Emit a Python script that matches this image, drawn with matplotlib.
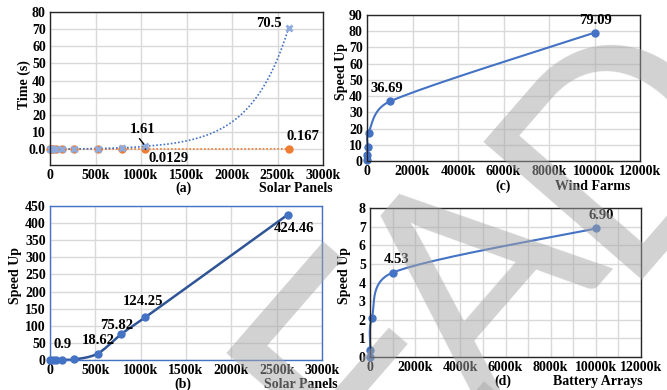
import numpy as np
import matplotlib
matplotlib.use('Agg')
import matplotlib.pyplot as plt

plt.rcParams['font.family'] = ['Liberation Serif', 'DejaVu Serif']
plt.rcParams['font.weight'] = 'bold'
FS = 10
plt.rcParams['font.size'] = FS

# ---------------- data ----------------
# (a) execution time vs solar panels
a_x = [4096, 16384, 32768, 65536, 131072, 262144, 524288, 786432, 1048576, 2621440]
a_time_serial = [0.001, 0.003, 0.006, 0.012, 0.03, 0.08, 0.3, 0.7, 1.61, 70.5]
a_time_parallel = [0.00005, 0.0001, 0.0002, 0.0004, 0.0008, 0.0017, 0.0045, 0.008, 0.0129, 0.167]
a_xticks = [0, 500000, 1000000, 1500000, 2000000, 2500000, 3000000]
a_xticklabels = ['0', '500k', '1000k', '1500k', '2000k', '2500k', '3000k']
a_yticks = [0, 10, 20, 30, 40, 50, 60, 70, 80]
a_yticklabels = ['0.0', '10', '20', '30', '40', '50', '60', '70', '80']

# (b) speed up vs solar panels
b_x = [4096, 32768, 65536, 131072, 262144, 524288, 786432, 1048576, 2621440]
b_speedup = [0.2, 0.4, 0.6, 0.9, 1.5, 18.62, 75.82, 124.25, 424.46]
b_yticks = [0, 50, 100, 150, 200, 250, 300, 350, 400, 450]

# (c) speed up vs wind farms
c_x = [1000, 10000, 25000, 70000, 1000000, 10000000]
c_speedup = [0.5, 3.8, 8.8, 17.5, 36.69, 79.09]
c_xticks = [0, 2000000, 4000000, 6000000, 8000000, 10000000, 12000000]
c_xticklabels = ['0', '2000k', '4000k', '6000k', '8000k', '10000k', '12000k']
c_yticks = [0, 10, 20, 30, 40, 50, 60, 70, 80, 90]

# (d) speed up vs battery arrays
d_x = [1000, 10000, 80000, 1000000, 10000000]
d_speedup = [0.0, 0.4, 2.1, 4.53, 6.90]
d_yticks = [0, 1, 2, 3, 4, 5, 6, 7, 8]
d_minor_x = [1000000, 3000000, 5000000, 7000000, 9000000, 11000000]

W, H = 667, 390
fig = plt.figure(figsize=(W / 100, H / 100), dpi=100)

BLUE = '#4472C4'
DBLUE = '#2F5597'
ORANGE = '#ED7D31'
LBLUE = '#8FAADC'
GRID = '#D9D9D9'


def box(l, t, r, b):
    return [l / W, 1 - b / H, (r - l) / W, (b - t) / H]


def ftext(px, py, s, **kw):
    fig.text(px / W, 1 - py / H, s, fontsize=FS, fontweight='bold', **kw)


def style(ax, spine_color='#262626'):
    ax.tick_params(length=0, pad=3, labelsize=FS)
    for sp in ax.spines.values():
        sp.set_color(spine_color)
        sp.set_linewidth(1.0)
        sp.set_zorder(5)
    ax.grid(True, color=GRID, lw=1.0, zorder=0)
    ax.set_axisbelow(True)
    for lab in ax.get_xticklabels() + ax.get_yticklabels():
        lab.set_fontweight('bold')


def smooth(ax, xs, ys, cap=0.5, n=40):
    """Excel-like smoothed line: Catmull-Rom tangents, control arms capped by segment length."""
    P = ax.transData.transform(np.column_stack([xs, ys]).astype(float))
    m = len(P)
    d = np.linalg.norm(np.diff(P, axis=0), axis=1)
    T = np.zeros_like(P)
    T[0] = P[1] - P[0]
    T[-1] = P[-1] - P[-2]
    T[1:-1] = P[2:] - P[:-2]
    t = np.linspace(0, 1, n)[1:, None]
    pts = [P[:1]]

    def arm(v, lim):
        L = np.linalg.norm(v)
        return v if L <= lim or L == 0 else v * (lim / L)

    for i in range(m - 1):
        c1 = P[i] + arm(T[i] / 6.0, cap * d[i])
        c2 = P[i + 1] - arm(T[i + 1] / 6.0, cap * d[i])
        seg = ((1 - t) ** 3) * P[i] + 3 * ((1 - t) ** 2) * t * c1 + 3 * (1 - t) * t ** 2 * c2 + t ** 3 * P[i + 1]
        pts.append(seg)
    pts = np.vstack(pts)
    return ax.transData.inverted().transform(pts)


def label(ax, txt, xy, off, **kw):
    ax.annotate(txt, xy, xytext=off, textcoords='offset pixels', ha='center', va='center',
                fontsize=FS + 0.5, fontweight='bold', zorder=6, **kw)


# ---------------- (a) ----------------
axa = fig.add_axes(box(50, 12, 323, 165))
axa.set_xlim(0, 3000000)
axa.set_ylim(-9.3, 80)
axa.set_xticks(a_xticks, a_xticklabels)
axa.set_yticks(a_yticks, a_yticklabels)
style(axa)
xf = np.linspace(0, a_x[-1], 500)
axa.plot(xf, np.exp(np.interp(xf, a_x, np.log(a_time_parallel))), ls=(0, (1, 1.2)), color=ORANGE, lw=1.2, zorder=2)
axa.plot(xf, np.exp(np.interp(xf, a_x, np.log(a_time_serial))), ls=(0, (1, 1.2)), color=BLUE, lw=1.2, zorder=3)
axa.plot(a_x, a_time_parallel, 'o', color=ORANGE, ms=5, zorder=4, clip_on=False)
axa.plot(a_x, a_time_serial, 'x', color=LBLUE, ms=5, mew=2, zorder=4, clip_on=False)
label(axa, '70.5', (a_x[-1], a_time_serial[-1]), (-20, 5))
label(axa, '1.61', (a_x[8], a_time_serial[8]), (-3, 17),
      arrowprops=dict(arrowstyle='-', lw=1, color='black', shrinkA=0, shrinkB=2, relpos=(0.3, 0)))
label(axa, '0.0129', (a_x[8], a_time_parallel[8]), (23, -9),
      arrowprops=dict(arrowstyle='-', lw=1, color='black', shrinkA=0, shrinkB=2, relpos=(0.0, 0.9)))
label(axa, '0.167', (a_x[-1], a_time_parallel[-1]), (14, 12))
ftext(24, 85, 'Time (s)', rotation=90, ha='center', va='center')
ftext(183, 188, '(a)', ha='center', va='center')
ftext(333, 188, 'Solar Panels', ha='right', va='center')

# ---------------- (b) ----------------
axb = fig.add_axes(box(50, 206, 322, 360))
axb.set_xlim(0, 3000000)
axb.set_ylim(0, 450)
axb.set_xticks(a_xticks, a_xticklabels)
axb.set_yticks(b_yticks, [str(v) for v in b_yticks])
style(axb, spine_color=BLUE)
sb = smooth(axb, b_x, b_speedup)
axb.plot(sb[:, 0], sb[:, 1], color=DBLUE, lw=1.8, zorder=3, clip_on=False)
axb.plot(b_x, b_speedup, 'o', color=BLUE, ms=5, zorder=4, clip_on=False)
for idx, txt, off in [(3, '0.9', (1, 15)), (5, '18.62', (1, 13)), (6, '75.82', (-5, 9)),
                      (7, '124.25', (-2, 16)), (8, '424.46', (6, -14))]:
    label(axb, txt, (b_x[idx], b_speedup[idx]), off)
ftext(15, 275, 'Speed Up', rotation=90, ha='center', va='center')
ftext(183, 384, '(b)', ha='center', va='center')
ftext(338, 384, 'Solar Panels', ha='right', va='center')

# ---------------- (c) ----------------
axc = fig.add_axes(box(367, 15, 640, 161))
axc.set_xlim(0, 12000000)
axc.set_ylim(0, 90)
axc.set_xticks(c_xticks, c_xticklabels)
axc.set_yticks(c_yticks, [str(v) for v in c_yticks])
style(axc)
sc = smooth(axc, c_x, c_speedup)
axc.plot(sc[:, 0], sc[:, 1], color=BLUE, lw=1.5, zorder=3, clip_on=False)
axc.plot(c_x, c_speedup, 'o', color=BLUE, ms=5, zorder=4, clip_on=False)
label(axc, '36.69', (c_x[4], c_speedup[4]), (-3, 13))
label(axc, '79.09', (c_x[5], c_speedup[5]), (1, 12))
ftext(342, 72, 'Speed Up', rotation=90, ha='center', va='center')
ftext(503, 186, '(c)', ha='center', va='center')
ftext(630, 186, 'Wind Farms', ha='right', va='center')

# ---------------- (d) ----------------
axd = fig.add_axes(box(370, 208, 641, 357))
axd.set_xlim(0, 12000000)
axd.set_ylim(0, 8)
axd.set_xticks(c_xticks, c_xticklabels)
axd.set_xticks(d_minor_x, minor=True)
axd.set_yticks(d_yticks, [str(v) for v in d_yticks])
style(axd)
axd.tick_params(which='minor', length=0)
axd.grid(True, which='minor', axis='x', color=GRID, lw=1.0, zorder=0)
sd = smooth(axd, d_x, d_speedup)
axd.plot(sd[:, 0], sd[:, 1], color=BLUE, lw=1.5, zorder=3, clip_on=False)
axd.plot(d_x, d_speedup, 'o', color=BLUE, ms=5, zorder=4, clip_on=False)
label(axd, '4.53', (d_x[3], d_speedup[3]), (4, 13))
label(axd, '6.90', (d_x[4], d_speedup[4]), (5, 13))
ftext(344, 276, 'Speed Up', rotation=90, ha='center', va='center')
ftext(503, 381, '(d)', ha='center', va='center')
ftext(643, 381, 'Battery Arrays', ha='right', va='center')

# ---------------- watermark ----------------
ang = np.deg2rad(49)
up = np.array([-np.sin(ang), np.cos(ang)])
for ch, (cx, cy), cap in [('E', (349, 358), 240.0), ('A', (469, 274), 210.0), ('D', (609, 127), 210.0)]:
    c = np.array([cx, H - cy], float)
    bpt = c - up * cap / 2
    fig.text(bpt[0] / W, bpt[1] / H, ch, rotation=49, rotation_mode='anchor',
             ha='center', va='baseline', fontsize=cap * 1.005, family='Lato', fontweight='normal',
             color='#A6A6A6', alpha=0.5, zorder=10)

fig.savefig('out.png', dpi=100)
